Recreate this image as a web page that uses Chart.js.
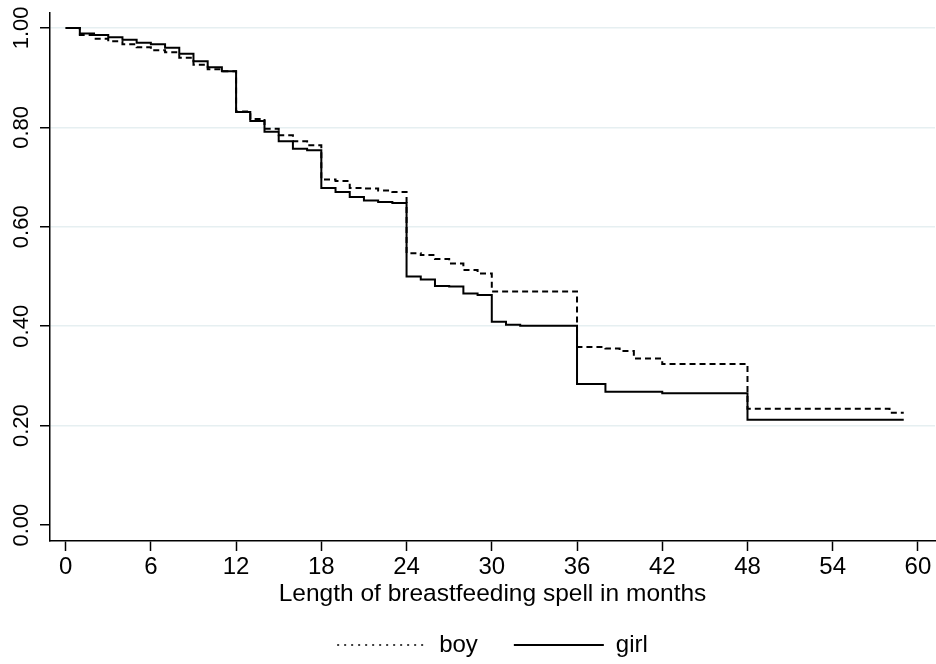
<!DOCTYPE html>
<html>
<head>
<meta charset="utf-8">
<title>Breastfeeding survival by sex</title>
<script src="https://cdn.jsdelivr.net/npm/chart.js@4.4.1/dist/chart.umd.min.js"></script>
<style>
  html, body { margin: 0; padding: 0; background: #fff; }
  #wrap { width: 936px; height: 664px; position: relative; }
</style>
</head>
<body>
<div id="wrap"><canvas id="km-chart"></canvas></div>
<script>
// ===========================
// Kaplan-Meier curves, boy vs girl
// ===========================

// month at which each step starts (last entry = end of follow-up)
const boyMonths = [0, 1, 2, 3, 4, 5, 6, 7, 8, 9, 10, 11, 12, 13, 14, 15, 16, 17, 18, 19, 20,
  21, 22, 23, 24, 25, 26, 27, 28, 29, 30, 36, 38, 39, 40, 42, 48, 58, 59];
const boySurvival = [1.000, 0.986, 0.978, 0.973, 0.967, 0.961, 0.955, 0.951, 0.940, 0.926, 0.917,
  0.913, 0.832, 0.817, 0.797, 0.784, 0.772, 0.764, 0.695, 0.692, 0.678,
  0.677, 0.673, 0.670, 0.547, 0.543, 0.535, 0.526, 0.513, 0.506, 0.470,
  0.358, 0.355, 0.350, 0.335, 0.324, 0.234, 0.226, 0.226];

const girlMonths = [0, 1, 2, 3, 4, 5, 6, 7, 8, 9, 10, 11, 12, 13, 14, 15, 16, 17, 18, 19, 20,
  21, 22, 23, 24, 25, 26, 27, 28, 29, 30, 31, 32, 36, 38, 42, 48, 59];
const girlSurvival = [1.000, 0.989, 0.986, 0.981, 0.976, 0.970, 0.967, 0.960, 0.948, 0.933, 0.921,
  0.913, 0.831, 0.813, 0.791, 0.772, 0.757, 0.754, 0.678, 0.670, 0.660,
  0.653, 0.650, 0.648, 0.500, 0.494, 0.481, 0.480, 0.466, 0.463, 0.409,
  0.403, 0.401, 0.284, 0.268, 0.265, 0.212, 0.212];

const xTicks = [0, 6, 12, 18, 24, 30, 36, 42, 48, 54, 60];
const yTicks = [0, 0.2, 0.4, 0.6, 0.8, 1.0];

const FONT = "'Liberation Sans', Arial, Helvetica, sans-serif";
const GRID = '#e6eff1';

function toPoints(months, values) {
  return months.map((m, i) => ({ x: m, y: values[i] }));
}

// y tick labels are rotated (read bottom to top), Chart.js won't rotate them itself
const rotatedYLabels = {
  id: 'rotatedYLabels',
  afterDraw(chart) {
    const scale = chart.scales.y;
    const ctx = chart.ctx;
    ctx.save();
    ctx.fillStyle = '#000';
    ctx.font = '22px ' + FONT;
    ctx.textAlign = 'center';
    ctx.textBaseline = 'middle';
    scale.ticks.forEach(t => {
      const y = scale.getPixelForValue(t.value);
      ctx.save();
      ctx.translate(22, y);
      ctx.rotate(-Math.PI / 2);
      ctx.fillText(t.value.toFixed(2), 0, 0);
      ctx.restore();
    });
    ctx.restore();
  }
};

const ctx = document.getElementById('km-chart');

new Chart(ctx, {
  type: 'line',
  data: {
    datasets: [
      {
        label: 'boy',
        data: toPoints(boyMonths, boySurvival),
        borderColor: '#000',
        backgroundColor: '#000',
        borderWidth: 2,
        borderDash: [6, 4],
        stepped: true,
        pointRadius: 0,
        fill: false,
      },
      {
        label: 'girl',
        data: toPoints(girlMonths, girlSurvival),
        borderColor: '#000',
        backgroundColor: '#000',
        borderWidth: 2,
        stepped: true,
        pointRadius: 0,
        fill: false,
      }
    ]
  },
  options: {
    responsive: true,
    maintainAspectRatio: false,
    animation: false,
    layout: { padding: { top: 13, right: 1, left: 0, bottom: 0 } },
    plugins: {
      tooltip: { enabled: false },
      legend: {
        position: 'bottom',
        fullSize: false,
        maxHeight: 67,
        labels: {
          color: '#000',
          font: { size: 24, family: FONT },
          usePointStyle: true,
          pointStyle: 'line',
          pointStyleWidth: 90,
          padding: 36,
          generateLabels: function(chart) {
            const items = Chart.defaults.plugins.legend.labels.generateLabels(chart);
            items.forEach(it => {
              if (it.text === 'boy') {
                it.lineDash = [2, 5];
                it.lineWidth = 1.5;
              }
            });
            return items;
          }
        }
      }
    },
    scales: {
      x: {
        type: 'linear',
        min: -1.1,
        max: 61.2,
        afterBuildTicks: scale => { scale.ticks = xTicks.map(v => ({ value: v })); },
        afterFit: scale => { scale.height = 56; },
        grid: { drawOnChartArea: false, tickLength: 10, tickColor: '#000', tickWidth: 1.5 },
        border: { color: '#000', width: 1.5 },
        ticks: {
          color: '#000',
          font: { size: 24, family: FONT },
          padding: 2,
          maxRotation: 0,
          autoSkip: false,
          callback: v => v
        },
        title: {
          display: true,
          text: 'Length of breastfeeding spell in months',
          color: '#000',
          font: { size: 24.5, family: FONT },
          padding: { top: 0, bottom: -11.7 }
        }
      },
      y: {
        min: -0.032,
        max: 1.03,
        afterBuildTicks: scale => { scale.ticks = yTicks.map(v => ({ value: v })); },
        afterFit: scale => { scale.width = 50; },
        grid: {
          color: c => (c.tick && c.tick.value === 0) ? 'rgba(0,0,0,0)' : GRID,
          lineWidth: 1.5,
          tickLength: 10,
          tickColor: '#000',
          tickWidth: 1.5
        },
        border: { color: '#000', width: 1.5 },
        ticks: { display: false }
      }
    }
  },
  plugins: [rotatedYLabels]
});
</script>
</body>
</html>
